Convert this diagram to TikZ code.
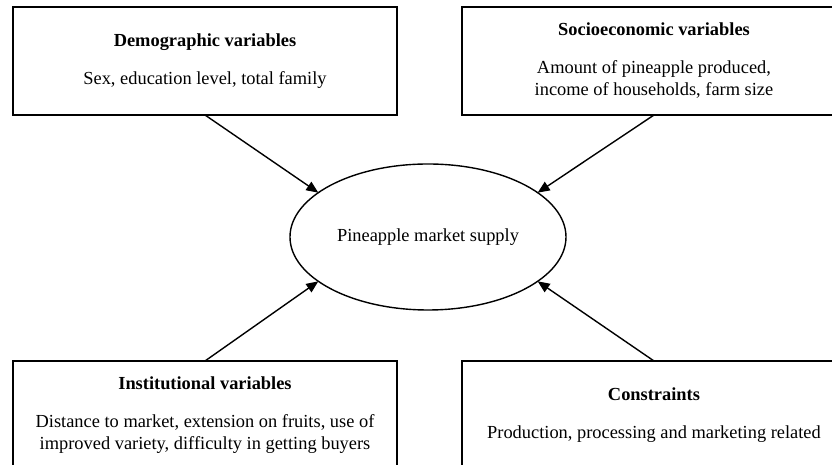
\documentclass[tikz,border=0pt]{standalone}
\usepackage{fontspec}
\setmainfont{Liberation Serif}
\usetikzlibrary{shapes,arrows.meta,positioning}

\begin{document}
\begin{tikzpicture}[
    x=0.5pt, y=0.5pt,
    >={Triangle[length=6pt,width=5pt]},
    line width=0.7pt,
    factor/.style={rectangle, draw=black, minimum width=192pt, minimum height=54pt, inner sep=0pt, outer sep=0pt, align=center, font=\fontsize{9.2}{11}\selectfont},
    target/.style={ellipse, draw=black, minimum width=138pt, minimum height=73pt, inner sep=0pt, outer sep=0pt, align=center, font=\fontsize{9.2}{11}\selectfont}
]
\clip (0,0) rectangle (832,465);

\node [target] (supply) at (428,228) {Pineapple market supply};

\node [factor] (demo) at (205,404) {\textbf{Demographic variables}\\[8pt]Sex, education level, total family};
\node [factor] (socio) at (654,404) {\textbf{Socioeconomic variables}\\[8pt]Amount of pineapple produced,\\income of households, farm size};
\node [factor] (inst) at (205,50) {\textbf{Institutional variables}\\[8pt]Distance to market, extension on fruits, use of\\improved variety, difficulty in getting buyers};
\node [factor] (cons) at (654,50) {\textbf{Constraints}\\[8pt]Production, processing and marketing related};

\draw[->] (demo.south) -- (supply.158);
\draw[->] (socio.south) -- (supply.22);
\draw[->] (inst.north) -- (supply.202);
\draw[->] (cons.north) -- (supply.338);
\end{tikzpicture}
\end{document}
